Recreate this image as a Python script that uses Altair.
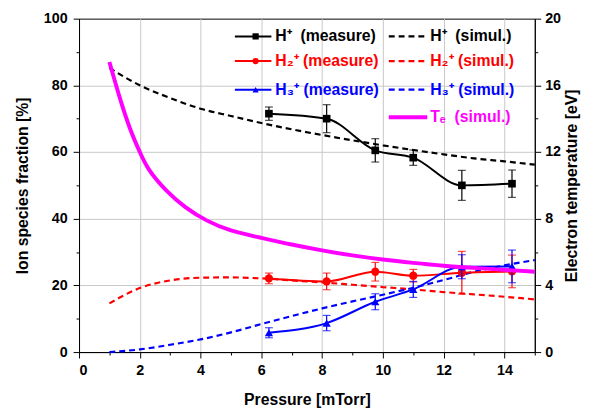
import altair as alt
import pandas as pd

# ---- data ----
pressure_meas = [6.25, 8.15, 9.75, 11.0, 12.6, 14.25]
h1_meas = [71.5, 70.0, 60.5, 58.3, 50.0, 50.5]
h1_err = [2.0, 4.2, 3.5, 2.3, 4.5, 4.1]
h2_meas = [22.1, 21.2, 24.1, 22.9, 23.8, 24.2]
h2_err = [1.6, 2.5, 2.8, 1.9, 6.4, 4.9]
h3_meas = [5.8, 8.7, 15.1, 18.8, 25.6, 25.7]
h3_err = [1.5, 2.3, 2.4, 2.4, 3.6, 4.9]

pressure_sim = [1, 2, 3, 4, 5, 6, 7, 8, 9, 10, 11, 12, 13, 14, 15]
h1_sim = [85.2, 80.0, 76.2, 73.0, 70.8, 68.7, 66.8, 65.1, 63.5, 62.0, 60.6, 59.3, 58.1, 57.2, 56.2]
h2_sim = [14.6, 19.2, 21.5, 22.3, 22.4, 22.1, 21.5, 20.9, 20.2, 19.5, 18.8, 18.0, 17.3, 16.6, 15.8]
h3_sim = [0.0, 0.8, 2.2, 3.8, 5.9, 8.4, 10.8, 13.1, 15.2, 17.2, 19.3, 21.6, 24.1, 26.0, 27.6]

pressure_te = [1.0, 1.35, 1.68, 2.0, 2.32, 2.87, 3.5, 4.2, 5, 6, 7, 8, 9, 10, 11, 12, 13, 14, 15]
te_sim = [17.4, 15.2, 13.4, 12.0, 10.9, 9.7, 8.7, 7.9, 7.3, 6.85, 6.45, 6.1, 5.8, 5.55, 5.35, 5.18, 5.05, 4.93, 4.82]

NB = "\u00a0"
legend_rows = ["H⁺" + NB + NB + "(measure)", "H₂⁺" + NB + "(measure)", "H₃⁺" + NB + "(measure)"]
legend_sim = ["H⁺" + NB + NB + "(simul.)", "H₂⁺" + NB + "(simul.)", "H₃⁺" + NB + "(simul.)", "Tₑ" + NB + NB + "(simul.)"]

FONT = "Liberation Sans"
BLACK, RED, BLUE, MAG = "#000000", "#ff0000", "#0000ff", "#ff00ff"

meas = pd.DataFrame({
    "P": pressure_meas,
    "h1": h1_meas, "h1lo": [v - e for v, e in zip(h1_meas, h1_err)], "h1hi": [v + e for v, e in zip(h1_meas, h1_err)],
    "h2": h2_meas, "h2lo": [v - e for v, e in zip(h2_meas, h2_err)], "h2hi": [v + e for v, e in zip(h2_meas, h2_err)],
    "h3": h3_meas, "h3lo": [v - e for v, e in zip(h3_meas, h3_err)], "h3hi": [v + e for v, e in zip(h3_meas, h3_err)],
})
sim = pd.DataFrame({"P": pressure_sim, "h1": h1_sim, "h2": h2_sim, "h3": h3_sim})
te = pd.DataFrame({"P": pressure_te, "te": te_sim})
one = pd.DataFrame({"a": [0]})

W, H = 462, 338
LEG_FS = 16
DASH = [6, 4]

xaxis = alt.Axis(
    title="Pressure [mTorr]",
    values=list(range(0, 16)),
    labelExpr="datum.value % 2 === 0 ? datum.label : ''",
    tickSize={"condition": {"test": "datum.value % 2 === 0", "value": 6}, "value": 3},
    gridOpacity={"condition": {"test": "datum.value % 2 === 0 && datum.value > 0", "value": 1}, "value": 0},
    grid=True,
    titleY=48, titleBaseline="middle",
    labelPadding=6,
)
X = alt.X("P:Q", scale=alt.Scale(domain=[0, 15], nice=False, zero=False), axis=xaxis)

yaxis = alt.Axis(
    title="Ion species fraction [%]",
    values=list(range(0, 101, 10)),
    labelExpr="datum.value % 20 === 0 ? datum.label : ''",
    tickSize={"condition": {"test": "datum.value % 20 === 0", "value": 6}, "value": 3},
    gridOpacity={"condition": {"test": "datum.value % 20 === 0 && datum.value > 0 && datum.value < 100", "value": 1}, "value": 0},
    grid=True,
    labelPadding=6,
    titleX=-57, titleY=H / 2, titleAngle=270, titleAlign="center", titleBaseline="middle",
)


def YL(field):
    return alt.Y(f"{field}:Q", scale=alt.Scale(domain=[0, 100], nice=False), axis=yaxis)


def simline(field, color):
    return alt.Chart(sim).mark_line(color=color, strokeDash=DASH, strokeWidth=2.2,
                                    interpolate="monotone").encode(x=X, y=YL(field))


def measlayers(field, color, shape, size):
    line = alt.Chart(meas).mark_line(color=color, strokeWidth=2, interpolate="monotone").encode(x=X, y=YL(field))
    err = alt.Chart(meas).mark_errorbar(ticks=True, size=8, thickness=1.2, color=color).encode(
        x=X, y=YL(field + "lo"), y2=alt.Y2(field + "hi"))
    pts = alt.Chart(meas).mark_point(shape=shape, filled=True, opacity=1, size=size, color=color).encode(
        x=X, y=YL(field))
    return [line, err, pts]


# ---- legend (inside plot, pixel positions) ----
rows_y = [18, 43, 72, 100]
leg = []
colors = [BLACK, RED, BLUE]
shapes = ["square", "circle", "triangle-up"]
for i in range(3):
    y = rows_y[i]
    leg.append(alt.Chart(one).mark_rule(color=colors[i], strokeWidth=2).encode(
        x=alt.value(158), x2=alt.value(195), y=alt.value(y)))
    leg.append(alt.Chart(one).mark_point(shape=shapes[i], filled=True, opacity=1, size=40, color=colors[i]).encode(
        x=alt.value(179), y=alt.value(y)))
    leg.append(alt.Chart(one).mark_text(text=legend_rows[i], align="left", baseline="middle", font=FONT,
                                        fontSize=LEG_FS, fontWeight="bold", color=colors[i]).encode(
        x=alt.value(199), y=alt.value(y)))
    leg.append(alt.Chart(one).mark_rule(color=colors[i], strokeWidth=2.2, strokeDash=DASH).encode(
        x=alt.value(314), x2=alt.value(353), y=alt.value(y)))
    leg.append(alt.Chart(one).mark_text(text=legend_sim[i], align="left", baseline="middle", font=FONT,
                                        fontSize=LEG_FS, fontWeight="bold", color=colors[i]).encode(
        x=alt.value(356), y=alt.value(y)))
leg.append(alt.Chart(one).mark_rule(color=MAG, strokeWidth=4).encode(
    x=alt.value(314), x2=alt.value(353), y=alt.value(rows_y[3])))
leg.append(alt.Chart(one).mark_text(text=legend_sim[3], align="left", baseline="middle", font=FONT,
                                    fontSize=LEG_FS, fontWeight="bold", color=MAG).encode(
    x=alt.value(356), y=alt.value(rows_y[3])))

left = alt.layer(
    simline("h1", BLACK), simline("h2", RED), simline("h3", BLUE),
    *measlayers("h1", BLACK, "square", 60),
    *measlayers("h2", RED, "circle", 70),
    *measlayers("h3", BLUE, "triangle-up", 70),
    *leg,
)

right = alt.Chart(te).mark_line(color=MAG, strokeWidth=4, interpolate="natural").encode(
    x=X,
    y=alt.Y("te:Q", scale=alt.Scale(domain=[0, 20], nice=False),
            axis=alt.Axis(orient="right", title="Electron temperature [eV]",
                          values=list(range(0, 21, 2)),
                          labelExpr="datum.value % 4 === 0 ? datum.label : ''",
                          tickSize={"condition": {"test": "datum.value % 4 === 0", "value": 6}, "value": 3},
                          grid=False, labelPadding=4,
                          titleX=37, titleY=H / 2, titleAngle=270, titleAlign="center",
                          titleBaseline="middle")),
)

chart = alt.layer(left, right).resolve_scale(y="independent").properties(
    width=W, height=H,
    autosize=alt.AutoSizeParams(type="none"),
    padding={"left": 72, "top": 8, "right": 58, "bottom": 62},
).configure_view(stroke=BLACK, strokeWidth=1).configure_axis(
    labelFont=FONT, labelFontSize=14.5, labelFontWeight="bold", labelColor=BLACK,
    titleFont=FONT, titleFontSize=16, titleFontWeight="bold", titleColor=BLACK,
    domainColor=BLACK, tickColor=BLACK, gridColor="#c8c8c8", gridWidth=1,
)

chart.save("out.html", embed_options={"renderer": "svg", "actions": False})
